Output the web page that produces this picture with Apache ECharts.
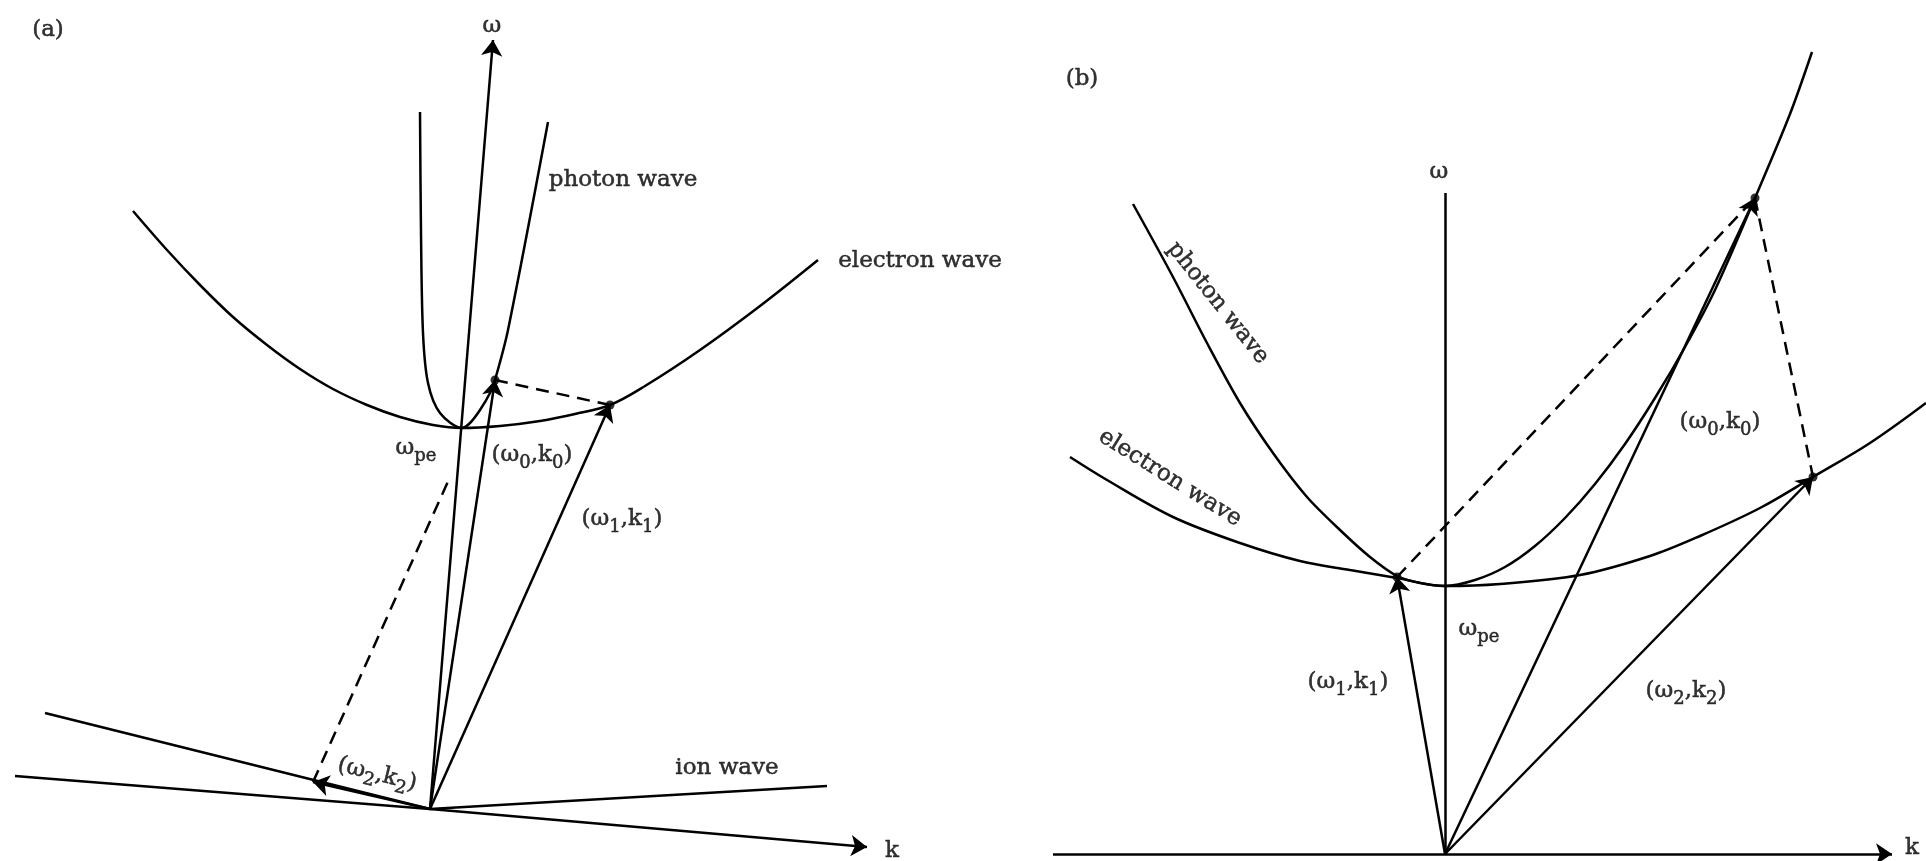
<!DOCTYPE html>
<html>
<head>
<meta charset="utf-8">
<script src="https://cdn.jsdelivr.net/npm/echarts@6/dist/echarts.min.js"></script>
<style>html,body{margin:0;padding:0;background:#fff}#c{width:1926px;height:861px}</style>
</head>
<body>
<div id="c"></div>
<script>
// ---------- Panel (a): coordinates relative to origin (k=0, ω=0), ω upward ----------
const aKAxisLeft   = [[-415, 33], [0, 0]];
const aKAxisRight  = [[0, 0], [437, -38]];
const aOmegaAxis   = [[0, 0], [63, 769]];
const aIonWave     = [[-385, 96], [0, 0], [397, 23]];
const aElectronWave = [[-297, 598], [-263, 559], [-230, 524], [-197, 492], [-163, 464], [-130, 440],
  [-97, 420], [-63, 404], [-30, 392], [3, 384], [32, 381], [70, 383], [110, 388], [145, 395],
  [180, 404], [215, 423], [270, 459], [330, 503], [388, 549]];
const aPhotonWave  = [[-10, 697], [-9, 576], [-7, 476], [-2, 426], [10, 396], [32, 381], [40, 386],
  [50, 399], [60, 416], [65, 429], [78, 479], [118, 687]];
const aK0 = [65, 429];
const aK1 = [180, 404];
const aK2 = [-117, 27];
const aDashEnd = [20, 332];   // visible end of the dashed k2 -> k0 line
const aLabels = [
  ['(a)', -382, 779, 0],
  ['ω', 62, 783, 0],
  ['photon wave', 193, 629, 0],
  ['electron wave', 490, 548, 0],
  ['{m|ω}{s|pe}', -14, 360, 0],
  ['{m|(ω}{s|0}{m|,k}{s|0}{m|)}', 102, 353, 0],
  ['{m|(ω}{s|1}{m|,k}{s|1}{m|)}', 192, 289, 0],
  ['{m|(ω}{s|2}{m|,k}{s|2}{m|)}', -53, 34, -14],
  ['ion wave', 297, 41, 0],
  ['k', 462, -42, 0]
];

// ---------- Panel (b): coordinates relative to origin ----------
const bKAxis       = [[-392, 0], [447, 0]];
const bOmegaAxis   = [[0, 0], [0, 661]];
const bElectronWave = [[-375, 397], [-338, 374], [-272, 337], [-205, 311], [-145, 293], [-95, 284],
  [-48, 276], [0, 268], [55, 270], [135, 279], [205, 298], [255, 318], [315, 346],
  [368, 377], [425, 411], [481, 451]];
const bPhotonWave  = [[-312, 650], [-272, 577], [-238, 511], [-205, 451], [-172, 401], [-138, 357],
  [-105, 324], [-75, 297], [-48, 278], [-25, 271], [0, 268], [30, 274], [60, 287], [90, 308],
  [120, 336], [150, 370], [180, 410], [210, 456], [240, 507], [270, 564], [310, 656], [345, 740],
  [367, 802]];
const bK0 = [310, 656];
const bK1 = [-48, 277];
const bK2 = [368, 377];
const bLabels = [
  ['(b)', -363, 775, 0],
  ['ω', -6, 682, 0],
  ['photon wave', -227, 551, -51.5],
  ['electron wave', -275, 376, -32],
  ['{m|ω}{s|pe}', 34, 224, 0],
  ['{m|(ω}{s|1}{m|,k}{s|1}{m|)}', -97, 171, 0],
  ['{m|(ω}{s|2}{m|,k}{s|2}{m|)}', 241, 162, 0],
  ['{m|(ω}{s|0}{m|,k}{s|0}{m|)}', 275, 431, 0],
  ['k', 467, 6, 0]
];

// ---------- styling ----------
const INK = '#000';
const FONT = '"DejaVu Serif", "Liberation Serif", serif';
const LW = 2.5;
const TB = 0.5;
const rich = {
  m: {fontSize: 23, fontFamily: FONT, color: INK, lineHeight: 24, verticalAlign: 'top',
      textBorderColor: INK, textBorderWidth: TB},
  s: {fontSize: 18, fontFamily: FONT, color: INK, lineHeight: 18, padding: [10, 0, 0, 0], verticalAlign: 'top',
      textBorderColor: INK, textBorderWidth: TB}
};

function curve(data, g, smooth) {
  return {type: 'line', xAxisIndex: g, yAxisIndex: g, data: data, smooth: smooth,
    symbol: 'none', silent: true, clip: false, lineStyle: {color: INK, width: LW}};
}
function segs(list, g, arrow, dashed) {
  return {type: 'lines', coordinateSystem: 'cartesian2d', xAxisIndex: g, yAxisIndex: g,
    silent: true, clip: false,
    symbol: arrow ? ['none', 'arrow'] : ['none', 'none'], symbolSize: [11, 16],
    lineStyle: {color: INK, width: LW, opacity: 1, curveness: 0, type: dashed ? [13, 8] : 'solid'},
    data: list.map(c => ({coords: c}))};
}
function dots(list, g) {
  return {type: 'scatter', xAxisIndex: g, yAxisIndex: g, silent: true, symbolSize: 9,
    itemStyle: {color: INK}, data: list};
}
function labels(list, g) {
  return {type: 'scatter', xAxisIndex: g, yAxisIndex: g, silent: true, symbolSize: 1,
    itemStyle: {color: 'rgba(0,0,0,0)'}, z: 10,
    data: list.map(l => ({value: [l[1], l[2]],
      label: {show: true, position: 'inside', formatter: l[0], rotate: l[3],
        fontSize: 23, fontFamily: FONT, color: INK, textBorderColor: INK, textBorderWidth: TB,
        align: 'center', verticalAlign: 'middle', rich: rich}}))};
}

const O = [0, 0];
const option = {
  backgroundColor: '#fff',
  animation: false,
  grid: [
    {left: 0, top: 0, width: 963, height: 861},
    {left: 963, top: 0, width: 963, height: 861}
  ],
  xAxis: [
    {type: 'value', gridIndex: 0, min: -430, max: 533, show: false},
    {type: 'value', gridIndex: 1, min: -482, max: 481, show: false}
  ],
  yAxis: [
    {type: 'value', gridIndex: 0, min: -52, max: 809, show: false},
    {type: 'value', gridIndex: 1, min: -7, max: 854, show: false}
  ],
  series: [
    // panel (a)
    segs([aKAxisLeft], 0, false, false),
    segs([aKAxisRight, aOmegaAxis, [O, aK0], [O, aK1], [O, aK2]], 0, true, false),
    segs([[aK2, aDashEnd], [aK0, aK1]], 0, false, true),
    curve(aIonWave, 0, false),
    curve(aElectronWave, 0, 0.35),
    curve(aPhotonWave, 0, 0.3),
    dots([aK0, aK1], 0),
    labels(aLabels, 0),
    // panel (b)
    segs([bOmegaAxis], 1, false, false),
    segs([bKAxis, [O, bK0], [O, bK1], [O, bK2]], 1, true, false),
    segs([[bK1, bK0], [bK0, bK2]], 1, false, true),
    curve(bElectronWave, 1, 0.35),
    curve(bPhotonWave, 1, 0.3),
    dots([bK0, bK1, bK2], 1),
    labels(bLabels, 1)
  ]
};
const chart = echarts.init(document.getElementById('c'));
chart.setOption(option);
</script>
</body>
</html>
